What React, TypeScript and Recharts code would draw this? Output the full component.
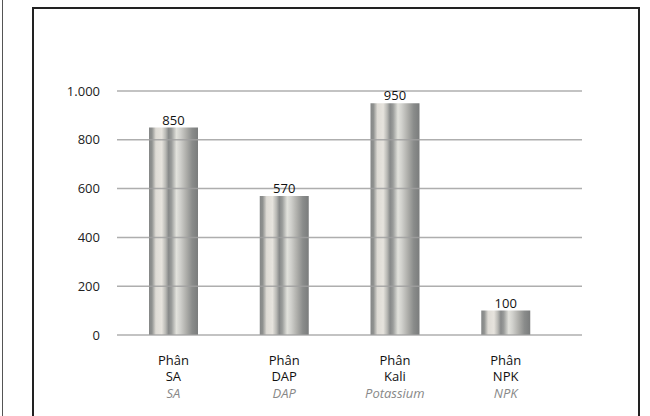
import { Bar, BarChart, CartesianGrid, LabelList, XAxis, YAxis } from "recharts";

const categories = ["SA", "DAP", "Kali", "NPK"];
const subtitles = ["SA", "DAP", "Potassium", "NPK"];
const values = [850, 570, 950, 100];
const yTicks = [0, 200, 400, 600, 800, 1000];

const data = categories.map((name, i) => ({ name, sub: subtitles[i], value: values[i] }));

const FONT = "'Open Sans', sans-serif";

const formatThousands = (v: number) => String(v).replace(/\B(?=(\d{3})+(?!\d))/g, ".");

// three-line category label: "Phân", product code, grey italic subtitle
function CategoryTick(props: any) {
  const { x, y, payload } = props;
  const row = data[payload.index] ?? data.find((d) => d.name === payload.value);
  return (
    <g transform={`translate(${x},${y})`}>
      <text x={0} y={22} textAnchor="middle" fontFamily={FONT} fontSize={13} fill="#111">
        Phân
      </text>
      <text x={0} y={38} textAnchor="middle" fontFamily={FONT} fontSize={13} fill="#111">
        {row?.name}
      </text>
      <text x={0} y={55} textAnchor="middle" fontFamily={FONT} fontSize={13} fontStyle="italic" fill="#888">
        {row?.sub}
      </text>
    </g>
  );
}

export default function App() {
  return (
    <div
      style={{
        position: "absolute",
        left: 0,
        top: 0,
        width: 650,
        height: 416,
        overflow: "hidden",
        background: "#fff",
      }}
    >
      <div style={{ position: "absolute", left: 2, top: 0, width: 1, height: 416, background: "#555" }} />
      <div
        style={{
          position: "absolute",
          left: 32,
          top: 7,
          width: 608,
          height: 430,
          border: "2px solid #222",
          boxSizing: "border-box",
        }}
      />
      <div style={{ position: "absolute", left: 0, top: 0 }}>
        <BarChart width={650} height={416} data={data} margin={{ top: 91, right: 68, left: 0, bottom: 0 }}>
          <defs>
            <linearGradient id="metal" x1="0" y1="0" x2="1" y2="0">
              <stop offset="0%" stopColor="#858787" />
              <stop offset="6%" stopColor="#8f918f" />
              <stop offset="14%" stopColor="#dedbd5" />
              <stop offset="26%" stopColor="#e6e3dd" />
              <stop offset="34%" stopColor="#b8b8b4" />
              <stop offset="40%" stopColor="#878989" />
              <stop offset="46%" stopColor="#9a9c9a" />
              <stop offset="56%" stopColor="#e2e2dc" />
              <stop offset="64%" stopColor="#d0d0cc" />
              <stop offset="76%" stopColor="#aeaeaa" />
              <stop offset="88%" stopColor="#8a8c8b" />
              <stop offset="100%" stopColor="#7a7c7c" />
            </linearGradient>
          </defs>
          <XAxis
            dataKey="name"
            height={81}
            axisLine={false}
            tickLine={false}
            padding={{ left: 1, right: 21 }}
            tick={<CategoryTick />}
            interval={0}
          />
          <YAxis
            width={117}
            domain={[0, 1000]}
            ticks={yTicks}
            axisLine={false}
            tickLine={false}
            tickSize={0}
            tickMargin={17}
            tickFormatter={formatThousands}
            tick={{ fontFamily: FONT, fontSize: 13, fill: "#222" }}
          />
          <Bar dataKey="value" barSize={49} fill="url(#metal)" isAnimationActive={false}>
            <LabelList
              dataKey="value"
              position="top"
              offset={3}
              style={{ fontFamily: FONT, fontSize: 13, fill: "#111" }}
            />
          </Bar>
          <CartesianGrid vertical={false} stroke="#a0a0a0" strokeWidth={1.5} strokeOpacity={0.85} zIndex={500} />
        </BarChart>
      </div>
    </div>
  );
}
